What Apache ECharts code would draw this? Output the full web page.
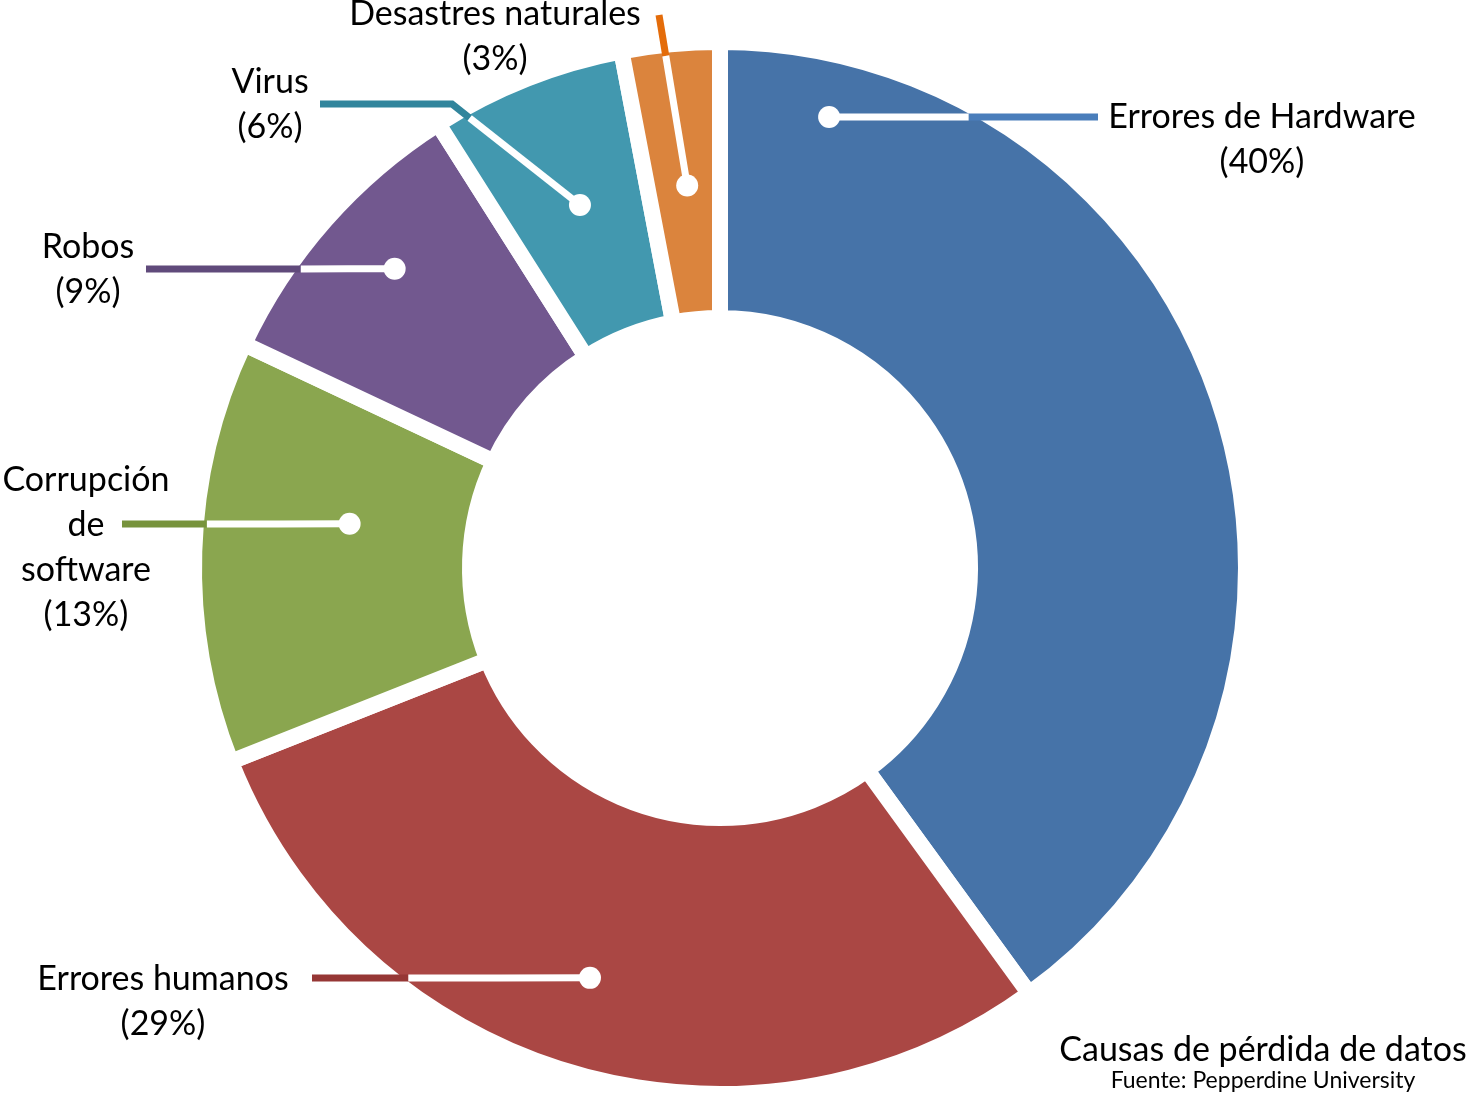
<!DOCTYPE html>
<html>
<head>
<meta charset="utf-8">
<script src="https://cdn.jsdelivr.net/npm/echarts@6/dist/echarts.min.js"></script>
<style>
html,body{margin:0;padding:0;background:#ffffff;}
#chart{width:1467px;height:1100px;}
</style>
</head>
<body>
<div id="chart"></div>
<script>
// ---- data ----
const categories = ['Errores de Hardware', 'Errores humanos', 'Corrupción de software', 'Robos', 'Virus', 'Desastres naturales'];
const values = [40, 29, 13, 9, 6, 3];

// ---- styles ----
const sliceColors = ['#4673A8', '#AA4744', '#8AA64F', '#72588F', '#4298AF', '#DB843D'];
const lineColors  = ['#4A7EBB', '#963735', '#77933C', '#604A7B', '#31859C', '#E46C0A'];
const FONT = 'Lato';

// ---- layout ----
const CX = 720, CY = 568;          // pie centre (px)
const R_OUT = 518, R_IN = 258;     // visible radii (px)
const GAP = 16;                    // white separation between slices
const LINE_W = 7;
// dot: [angle clockwise from 12 o'clock (deg), radius px]; via: extra knee points; end: outer end of leader; text: centre of label block
const labelSpec = [
  { dot: [13.6, 464],  via: [],           end: [1098, 117], text: [1262, 140], wrapAll: false },
  { dot: [197.6, 430], via: [],           end: [312, 978],  text: [163, 1002], wrapAll: false },
  { dot: [276.8, 373], via: [],           end: [122, 524],  text: [86, 548],   wrapAll: true  },
  { dot: [312.6, 442], via: [],           end: [146, 269],  text: [88, 270],   wrapAll: false },
  { dot: [338.9, 389], via: [[452, 104]], end: [320, 104],  text: [270, 105],  wrapAll: false },
  { dot: [355.1, 384], via: [],           end: [659, 15],   text: [495, 37],   wrapAll: false }
];

function polar(a, r) {
  const rad = a * Math.PI / 180;
  return [CX + r * Math.sin(rad), CY - r * Math.cos(rad)];
}
function circleExit(p0, p1, R) {
  const dx = p1[0] - p0[0], dy = p1[1] - p0[1];
  const fx = p0[0] - CX, fy = p0[1] - CY;
  const a = dx * dx + dy * dy, b = 2 * (fx * dx + fy * dy), c = fx * fx + fy * fy - R * R;
  const t = (-b + Math.sqrt(b * b - 4 * a * c)) / (2 * a);
  return [p0[0] + t * dx, p0[1] + t * dy];
}
function geometry(i) {
  const s = labelSpec[i];
  const dot = polar(s.dot[0], s.dot[1]);
  const next = s.via.length ? s.via[0] : s.end;
  const edge = circleExit(dot, next, R_OUT - 3);
  return { dot, edge, via: s.via, end: s.end, text: s.text };
}
function mid(a, b) { return [(a[0] + b[0]) / 2, (a[1] + b[1]) / 2]; }

const sliceData = categories.map((name, i) => ({ name: name, value: values[i], itemStyle: { color: sliceColors[i] } }));
const labelData = categories.map((name, i) => ({
  name: name,
  value: values[i],
  labelLine: { lineStyle: { color: lineColors[i] } }
}));
const dotData = categories.map((name, i) => ({ name: name, value: values[i] }));

const pieBase = {
  type: 'pie',
  center: [CX, CY],
  radius: [R_IN - GAP / 2, R_OUT + GAP / 2],
  startAngle: 90,
  clockwise: true,
  avoidLabelOverlap: false,
  emphasis: { disabled: true }
};

const chart = echarts.init(document.getElementById('chart'), null, { renderer: 'canvas' });
chart.setOption({
  animation: false,
  backgroundColor: '#ffffff',
  textStyle: { fontFamily: FONT },
  title: {
    text: 'Causas de pérdida de datos',
    subtext: 'Fuente: Pepperdine University',
    left: 1258,
    top: 1028,
    textAlign: 'center',
    itemGap: 2,
    textStyle: { fontFamily: FONT, fontSize: 34, fontWeight: 'normal', color: '#000000' },
    subtextStyle: { fontFamily: FONT, fontSize: 23, color: '#000000' }
  },
  series: [
    Object.assign({}, pieBase, {
      name: 'slices',
      z: 2,
      itemStyle: { borderColor: '#ffffff', borderWidth: GAP },
      label: { show: false },
      labelLine: { show: false },
      data: sliceData
    }),
    Object.assign({}, pieBase, {
      name: 'labels',
      z: 5,
      silent: true,
      itemStyle: { color: 'rgba(0,0,0,0)', borderWidth: 0 },
      label: {
        show: true,
        position: 'outside',
        fontFamily: FONT,
        fontSize: 34,
        lineHeight: 45,
        color: '#000000',
        align: 'center',
        formatter: function (p) {
          const nm = labelSpec[p.dataIndex].wrapAll ? p.name.split(' ').join('\n') : p.name;
          return nm + '\n(' + p.value + '%)';
        }
      },
      labelLine: { show: true, smooth: false, lineStyle: { width: LINE_W, cap: 'butt', join: 'miter' } },
      labelLayout: function (params) {
        const g = geometry(params.dataIndex);
        const pts = [g.edge].concat(g.via).concat([g.end]);
        if (pts.length === 2) pts.splice(1, 0, mid(pts[0], pts[1]));
        return {
          x: g.text[0],
          y: g.text[1],
          align: 'center',
          verticalAlign: 'middle',
          labelLinePoints: pts
        };
      },
      data: labelData
    }),
    Object.assign({}, pieBase, {
      name: 'dots',
      z: 6,
      silent: true,
      itemStyle: { color: 'rgba(0,0,0,0)', borderWidth: 0 },
      label: {
        show: true,
        position: 'outside',
        formatter: '{a| }',
        rich: {
          a: { width: 22, height: 22, lineHeight: 22, fontSize: 10, backgroundColor: '#ffffff', borderRadius: 11, padding: 0 }
        }
      },
      labelLine: { show: true, smooth: false, lineStyle: { width: LINE_W, color: '#ffffff', cap: 'butt' } },
      labelLayout: function (params) {
        const g = geometry(params.dataIndex);
        return {
          x: g.dot[0],
          y: g.dot[1],
          align: 'center',
          verticalAlign: 'middle',
          labelLinePoints: [g.dot, mid(g.dot, g.edge), g.edge]
        };
      },
      data: dotData
    })
  ]
});
</script>
</body>
</html>
